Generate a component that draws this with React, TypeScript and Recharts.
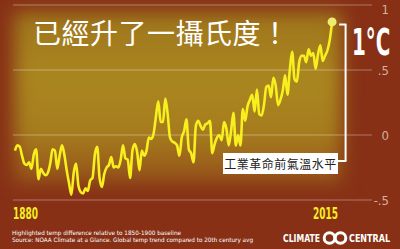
import React from 'react';
import { ComposedChart, Line, XAxis, YAxis, CartesianGrid, ReferenceLine } from 'recharts';

// 全球氣溫距平 (NOAA, 相對 20 世紀平均), 1880 起每年一筆
const START_YEAR = 1880;
const anomalies = [
  -0.12, -0.08, -0.09, -0.16, -0.22, -0.23, -0.21, -0.26, -0.15, -0.11,
  -0.34, -0.26, -0.29, -0.31, -0.29, -0.22, -0.11, -0.12, -0.26, -0.16,
  -0.08, -0.15, -0.27, -0.37, -0.46, -0.29, -0.22, -0.39, -0.44, -0.45,
  -0.41, -0.43, -0.35, -0.33, -0.15, -0.09, -0.33, -0.4, -0.3, -0.25,
  -0.23, -0.17, -0.25, -0.24, -0.25, -0.19, -0.08, -0.18, -0.19, -0.33,
  -0.12, -0.07, -0.13, -0.27, -0.12, -0.16, -0.12, -0.02, -0.03, 0.01,
  0.14, 0.26, 0.1, 0.1, 0.28, 0.16, -0.02, -0.05, -0.06, -0.08,
  -0.16, -0.02, 0.03, 0.12, -0.11, -0.14, -0.21, 0.07, 0.11, 0.07,
  0.04, 0.08, 0.09, 0.11, -0.14, -0.07, -0.02, 0.0, -0.04, 0.1,
  0.05, -0.08, 0.03, 0.17, -0.08, 0.0, -0.08, 0.2, 0.11, 0.22,
  0.27, 0.31, 0.18, 0.35, 0.16, 0.15, 0.23, 0.37, 0.38, 0.29,
  0.44, 0.38, 0.23, 0.27, 0.34, 0.46, 0.31, 0.5, 0.64, 0.43,
  0.41, 0.56, 0.61, 0.61, 0.56, 0.66, 0.61, 0.63, 0.51, 0.62,
  0.69, 0.57, 0.61, 0.65, 0.73, 0.87,
];
const yTicks = [-0.5, 0, 0.5, 1];
const yTickLabels = ['-.5', '0', '.5', '1'];
const xTicks = [1880, 2015];
const baselineValue = -0.2; // 1850-1900 水平
const topValue = 0.85;

const data = anomalies.map((v, i) => ({ year: START_YEAR + i, temp: v }));

const TITLE = '已經升了一攝氏度！';
const BOX_LABEL = '工業革命前氣溫水平';
const NOTE_1 = 'Highlighted temp difference relative to 1850-1900 baseline';
const NOTE_2 = 'Source: NOAA Climate at a Glance. Global temp trend compared to 20th century avg';

const narrow = "'Liberation Sans Narrow', 'DejaVu Sans Condensed', sans-serif";

const YTick = (props: any) => {
  const { x, y, payload } = props;
  const i = yTicks.indexOf(payload.value);
  return (
    <text x={x + 17} y={y + 4.5} textAnchor="end" fill="#eedccf" fillOpacity={0.75}
      fontSize={13} fontFamily={narrow}>
      {yTickLabels[i]}
    </text>
  );
};

const XTick = (props: any) => {
  const { x, y, payload } = props;
  const first = payload.value === xTicks[0];
  return (
    <text x={first ? x - 2 : x + 6} y={y + 19} textAnchor={first ? 'start' : 'end'}
      fill="#f6ee22" fontSize={16} fontWeight="bold" fontFamily={narrow}
      textLength={25} lengthAdjust="spacingAndGlyphs">
      {payload.value}
    </text>
  );
};

const EndDot = (props: any) => {
  const { cx, cy, index } = props;
  if (index !== data.length - 1) return <g key={`d-${index}`} />;
  return <circle key={`d-${index}`} cx={cx} cy={cy} r={4.5} fill="#eeec70" />;
};

export default function App() {
  return (
    <div style={{ position: 'absolute', left: 0, top: 0, width: 400, height: 249, overflow: 'hidden', background: '#873016' }}>
      {/* 背景: 暗紅邊框 + 模糊的土黃色塊 */}
      <div style={{
        position: 'absolute', left: 14, top: 12, width: 328, height: 172,
        background: 'linear-gradient(180deg, #9e761c 0%, #aa861f 40%, #a67d1d 70%, #93501a 100%)',
        filter: 'blur(9px)',
      }} />
      <div style={{ position: 'absolute', left: 0, top: 0 }}>
        <ComposedChart width={400} height={249} data={data}
          margin={{ top: 5, right: 0, bottom: 29, left: 13 }}>
          <CartesianGrid horizontal vertical={false} stroke="#ffffff" strokeOpacity={0.35} />
          <XAxis dataKey="year" type="number" domain={[1879.15, 2032]} ticks={xTicks}
            axisLine={false} tickLine={false} tickSize={0} tickMargin={0} height={20}
            tick={<XTick />} interval={0} />
          <YAxis orientation="right" domain={[-0.5, 1]} ticks={yTicks} width={28}
            axisLine={false} tickLine={false} tickSize={0} tickMargin={0} tick={<YTick />} />
          <ReferenceLine segment={[{ x: 2020.75, y: topValue }, { x: 2020.75, y: baselineValue }]}
            stroke="#ffffff" strokeWidth={2} />
          <ReferenceLine segment={[{ x: 2018, y: topValue }, { x: 2021.1, y: topValue }]}
            stroke="#ffffff" strokeWidth={2} />
          <ReferenceLine segment={[{ x: 2017.5, y: baselineValue }, { x: 2021.1, y: baselineValue }]}
            stroke="#ffffff" strokeWidth={2} />
          <Line type="monotone" dataKey="temp" stroke="#f7ef1e" strokeWidth={2.6}
            dot={EndDot} activeDot={false} isAnimationActive={false} />
        </ComposedChart>
      </div>
      {/* 標籤框 */}
      <div style={{
        position: 'absolute', left: 223, top: 153, width: 115, height: 21, background: '#ffffff',
        color: '#222', fontFamily: "'Noto Sans CJK TC', sans-serif", fontSize: 12, lineHeight: '21px',
        textAlign: 'center', letterSpacing: 0.5,
      }}>{BOX_LABEL}</div>
      <svg width={400} height={249} style={{ position: 'absolute', left: 0, top: 0 }}>
        <text x={33} y={43.5} fill="#ffffff" fontSize={28} fontFamily="'Noto Sans CJK TC', sans-serif"
          letterSpacing={0.5}>{TITLE}</text>
        <text transform="translate(352 54.5) scale(0.58 1)" fill="#ffffff" fontSize={38}
          fontWeight="bold" fontFamily={narrow}>1°C</text>
        <text x={12} y={234.5} fill="#ffffff" fontSize={6} fontFamily={narrow}
          textLength={169} lengthAdjust="spacingAndGlyphs">{NOTE_1}</text>
        <text x={12} y={241.5} fill="#ffffff" fontSize={6} fontFamily={narrow}
          textLength={241} lengthAdjust="spacingAndGlyphs">{NOTE_2}</text>
        <text x={283} y={242} fill="#ffffff" fontSize={10} fontWeight="bold" fontFamily={narrow}
          textLength={37} lengthAdjust="spacingAndGlyphs">CLIMATE</text>
        <circle cx={329.5} cy={238} r={5.3} fill="none" stroke="#ffffff" strokeWidth={3} />
        <circle cx={340.5} cy={238} r={5.3} fill="none" stroke="#ffffff" strokeWidth={3} />
        <text x={349} y={242} fill="#ffffff" fontSize={10} fontWeight="bold" fontFamily={narrow}
          textLength={41} lengthAdjust="spacingAndGlyphs">CENTRAL</text>
      </svg>
    </div>
  );
}
